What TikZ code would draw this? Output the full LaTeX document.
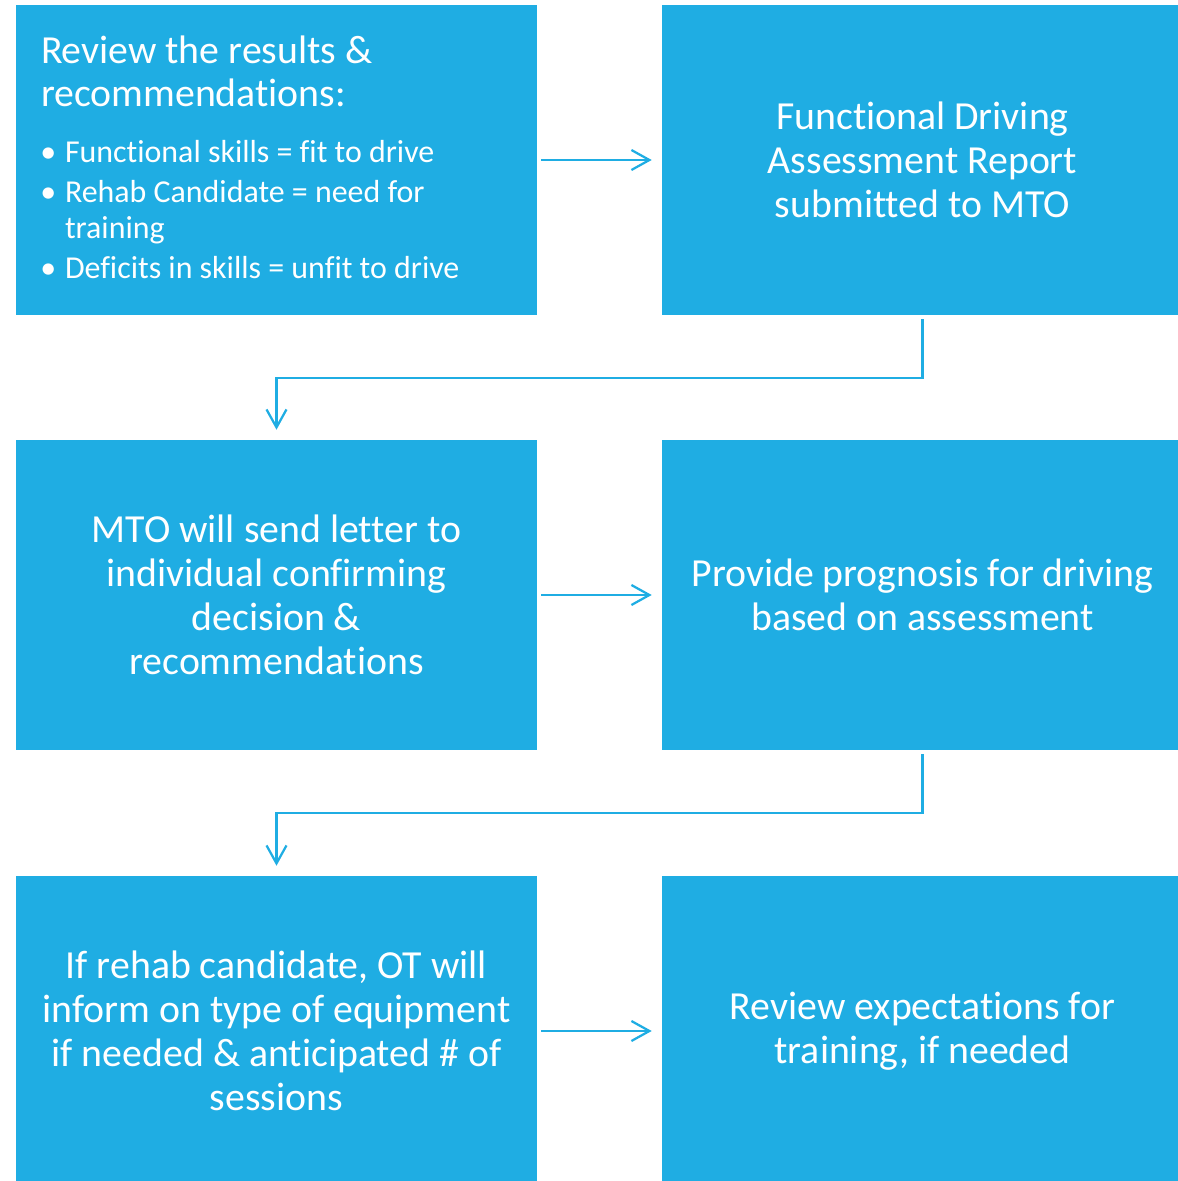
\documentclass[tikz,border=0pt]{standalone}
\usepackage{fontspec}
\setmainfont{Carlito}[Ligatures={TeX,NoCommon}]
\usepackage{enumitem}
\usetikzlibrary{arrows.meta}
\definecolor{stepblue}{RGB}{31,173,227}
\newcommand{\bigtxt}{\fontsize{28.3}{31.2}\selectfont}
\newcommand{\listtxt}{\fontsize{22.7}{25.5}\selectfont}

\begin{document}
\begin{tikzpicture}[>={Straight Barb[length=0.45cm,width=0.5cm]}, auto]
    \useasboundingbox (0,0) rectangle (29.45,-29.525);

    % Define styles
    \tikzstyle{stepbox}=[rectangle, fill=stepblue, text=white, minimum width=13.025cm, minimum height=7.75cm, align=flush center, inner sep=0pt, font=\bigtxt]
    \tikzstyle{flow}=[->, draw=stepblue, line width=1.6pt, shorten <=0.1cm, shorten >=0.25cm]

    \node[stepbox, text width=11.775cm, align=flush left] (review) at (6.9125,-4.0) {Review the results \&\\recommendations:\par
        \listtxt
        \begin{itemize}[leftmargin=0.6cm, labelsep=0.22cm, itemsep=3pt, parsep=0pt, topsep=14pt, partopsep=0pt]
            \item Functional skills = fit to drive
            \item Rehab Candidate = need for training
            \item Deficits in skills = unfit to drive
        \end{itemize}\vspace*{-9.75pt}};
    \node[stepbox] (report) at (23.0625,-4.0) {Functional Driving\\Assessment Report\\submitted to MTO};

    \node[stepbox] (letter) at (6.9125,-14.875) {MTO will send letter to\\individual confirming\\decision \&\\recommendations};
    \node[stepbox] (prognosis) at (23.0625,-14.875) {Provide prognosis for driving\\based on assessment};

    \node[stepbox] (equip) at (6.9125,-25.775) {If rehab candidate, OT will\\inform on type of equipment\\if needed \& anticipated \# of\\sessions};
    \node[stepbox] (training) at (23.0625,-25.775) {Review expectations for\\training, if needed};

    \draw[flow] (review) -- (report);
    \draw[flow] (report.south) -- ++(0,-1.56) -| (letter.north);
    \draw[flow] (letter) -- (prognosis);
    \draw[flow] (prognosis.south) -- ++(0,-1.56) -| (equip.north);
    \draw[flow] (equip) -- (training);
\end{tikzpicture}
\end{document}
